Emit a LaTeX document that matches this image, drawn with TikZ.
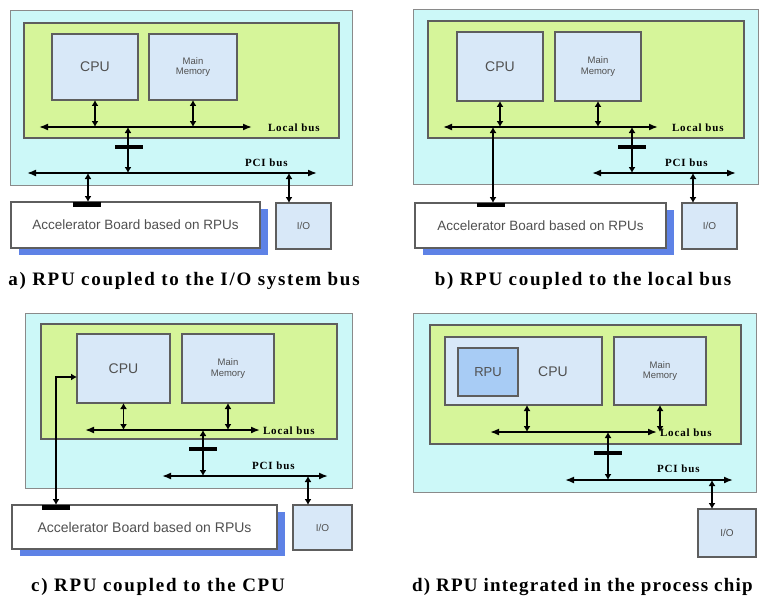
\documentclass[tikz,border=0pt]{standalone}
\usepackage{fontspec}
\setmainfont{Liberation Serif}
\newfontfamily\boxfont{Liberation Sans}
\newfontfamily\capfont[LetterSpace=9]{Liberation Serif}
\newfontfamily\capfontd[LetterSpace=6.5]{Liberation Serif}
\newfontfamily\busfont[LetterSpace=8]{Liberation Serif}
\usetikzlibrary{arrows.meta,shadows}
\definecolor{cyanbg}{HTML}{CCF8F8}
\definecolor{greenbg}{HTML}{D6F59A}
\definecolor{boxbg}{HTML}{D8E8F8}
\definecolor{rpubg}{HTML}{A8CCF5}
\definecolor{edgedark}{HTML}{5E5E5E}
\definecolor{edgelight}{HTML}{8A8A8A}
\definecolor{shadowblue}{HTML}{5E82E6}
\definecolor{txtgray}{HTML}{505050}
\newcommand\rbox[7]{\node[#1, anchor=north west, minimum width={(#4)-(#2)}, minimum height={(#5)-(#3)}] (#6) at (#2,#3) {#7};}
\begin{document}
\begin{tikzpicture}[x=1pt,y=-1pt,
 every node/.style={inner sep=0pt, outer sep=0pt},
 sysbox/.style={draw=edgelight, line width=1pt, fill=cyanbg},
 chipbox/.style={draw=edgedark, line width=1.4pt, fill=greenbg},
 unitbox/.style={draw=edgedark, line width=1.3pt, fill=boxbg, font=\boxfont\fontsize{14}{16}\selectfont, text=txtgray, align=center},
 memtext/.style={font=\boxfont\fontsize{9.5}{10.5}\selectfont},
 iobox/.style={unitbox, font=\boxfont\fontsize{10}{12}\selectfont},
 rpubox/.style={draw=edgedark, line width=1.2pt, fill=rpubg, font=\boxfont\fontsize{13}{15}\selectfont, text=txtgray},
 boardbox/.style={draw=edgedark, line width=1.2pt, fill=white, font=\boxfont\fontsize{13.5}{15}\selectfont, text=txtgray,
   drop shadow={shadow xshift=8pt, shadow yshift=-7pt, fill=shadowblue, opacity=1}},
 bus/.style={line width=1.7pt, {Latex[length=9pt,width=7pt]}-{Latex[length=9pt,width=7pt]}},
 link/.style={line width=1.8pt, {Latex[length=6pt,width=7pt]}-{Latex[length=6pt,width=7pt]}},
 bridge/.style={line width=1.3pt, {Latex[length=6pt,width=7pt]}-{Latex[length=6pt,width=7pt]}},
 barnode/.style={fill=black, minimum width=28pt, minimum height=4.5pt},
 buslabel/.style={font=\busfont\bfseries\fontsize{11}{12}\selectfont, anchor=west},
 captext/.style={font=\capfont\bfseries\fontsize{19}{22}\selectfont},
]
\useasboundingbox[fill=white] (0,0) rectangle (759,599);

% ---------------- panel a ----------------
\rbox{sysbox}{10}{11}{352}{185}{sysA}{}
\rbox{chipbox}{24}{23}{339}{138}{chipA}{}
\rbox{unitbox}{52}{34}{138}{100}{cpuA}{CPU}
\rbox{unitbox,memtext}{149}{34}{237}{100}{memA}{Main\\Memory}
\rbox{boardbox}{11}{202}{260}{248}{accA}{Accelerator Board based on RPUs}
\rbox{iobox}{276}{203}{331}{249}{ioA}{I/O}
\coordinate (aL1) at (39,127); \coordinate (aL2) at (252,127);
\coordinate (aP1) at (27,173); \coordinate (aP2) at (317,173);
\draw[bus] (aL1) -- (aL2);
\draw[bus] (aP1) -- (aP2);
\node[buslabel] (aLlab) at (268,128) {Local bus};
\node[buslabel] (aPlab) at (245,163) {PCI bus};
\draw[link] (cpuA.south) -- (cpuA.south |- aL1);
\draw[link] (memA.south) -- (memA.south |- aL1);
\coordinate (aBr) at (128,127);
\draw[bridge] (aBr) -- (aBr |- aP1);
\node[barnode] (aBar) at (129,147) {};
\coordinate (aAx) at (88,173);
\draw[link] (aAx) -- (aAx |- accA.north);
\node[barnode] (aAbar) at (87,204.5) {};
\coordinate (aIx) at (289,173);
\draw[link] (aIx) -- (aIx |- ioA.north);
\node[captext] (capA) at (184,281) {a) RPU coupled to the I/O system bus};

% ---------------- panel b ----------------
\rbox{sysbox}{413}{10}{758}{184}{sysB}{}
\rbox{chipbox}{428}{21}{744}{138}{chipB}{}
\rbox{unitbox}{457}{32}{543}{101}{cpuB}{CPU}
\rbox{unitbox,memtext}{555}{32}{641}{101}{memB}{Main\\Memory}
\rbox{boardbox}{415}{203}{666}{248}{accB}{Accelerator Board based on RPUs}
\rbox{iobox}{682}{203}{737}{249}{ioB}{I/O}
\coordinate (bL1) at (443,127); \coordinate (bL2) at (658,127);
\coordinate (bP1) at (592,173); \coordinate (bP2) at (736,173);
\draw[bus] (bL1) -- (bL2);
\draw[bus] (bP1) -- (bP2);
\node[buslabel] (bLlab) at (672,128) {Local bus};
\node[buslabel] (bPlab) at (665,163) {PCI bus};
\draw[link] (cpuB.south) -- (cpuB.south |- bL1);
\draw[link] (memB.south) -- (memB.south |- bL1);
\coordinate (bAx) at (493,127);
\draw[link] (bAx) -- (bAx |- accB.north);
\node[barnode] (bAbar) at (491,205) {};
\coordinate (bBr) at (632,127);
\draw[link] (bBr) -- (bBr |- bP1);
\node[barnode] (bBar) at (632,147) {};
\coordinate (bIx) at (693,173);
\draw[link] (bIx) -- (bIx |- ioB.north);
\node[captext] (capB) at (583,281) {b) RPU coupled to the local bus};

% ---------------- panel c ----------------
\rbox{sysbox}{25}{313}{352}{488}{sysC}{}
\rbox{chipbox}{41}{324}{337}{439}{chipC}{}
\rbox{unitbox}{77}{334}{170}{403}{cpuC}{CPU}
\rbox{unitbox,memtext}{182}{334}{274}{403}{memC}{Main\\Memory}
\rbox{boardbox,font=\boxfont\fontsize{14}{16}\selectfont}{12}{505}{277}{549}{accC}{Accelerator Board based on RPUs}
\rbox{iobox}{293}{505}{352}{550}{ioC}{I/O}
\coordinate (cL1) at (85,430); \coordinate (cL2) at (260,430);
\coordinate (cP1) at (162,476); \coordinate (cP2) at (328,476);
\draw[bus] (cL1) -- (cL2);
\draw[bus] (cP1) -- (cP2);
\node[buslabel] (cLlab) at (263,431) {Local bus};
\node[buslabel] (cPlab) at (252,466) {PCI bus};
\draw[link] (cpuC.south) -- (cpuC.south |- cL1);
\draw[link] (memC.south) -- (memC.south |- cL1);
\coordinate (cBr) at (203,430);
\draw[link] (cBr) -- (cBr |- cP1);
\node[barnode] (cBar) at (203,449) {};
\coordinate (cIx) at (308,476);
\draw[link] (cIx) -- (cIx |- ioC.north);
\coordinate (cK) at (56,505);
\coordinate (cKc) at (77,377);
\draw[bridge] (cK) |- (cKc);
\node[barnode] (cAbar) at (56,507.5) {};
\node[captext] (capC) at (158,587) {c) RPU coupled to the CPU};

% ---------------- panel d ----------------
\rbox{sysbox}{413}{313}{756}{492}{sysD}{}
\rbox{chipbox}{430}{325}{741}{444}{chipD}{}
\rbox{unitbox}{445}{337}{602}{405}{cpuD}{}
\rbox{rpubox}{458}{348}{518}{396}{rpuD}{RPU}
\node[font=\boxfont\fontsize{14}{16}\selectfont, text=txtgray] (cpuDlab) at (553,372) {CPU};
\rbox{unitbox,memtext}{614}{337}{706}{405}{memD}{Main\\Memory}
\rbox{iobox}{698}{509}{756}{557}{ioD}{I/O}
\coordinate (dL1) at (490,432); \coordinate (dL2) at (657,432);
\coordinate (dP1) at (565,480); \coordinate (dP2) at (733,480);
\draw[bus] (dL1) -- (dL2);
\draw[bus] (dP1) -- (dP2);
\node[buslabel] (dLlab) at (660,433) {Local bus};
\node[buslabel] (dPlab) at (657,469) {PCI bus};
\coordinate (dCx) at (527,405);
\draw[link] (dCx) -- (dCx |- dL1);
\draw[link] (memD.south) -- (memD.south |- dL1);
\coordinate (dBr) at (608,432);
\draw[link] (dBr) -- (dBr |- dP1);
\node[barnode] (dBar) at (608,453) {};
\coordinate (dIx) at (712,480);
\draw[link] (dIx) -- (dIx |- ioD.north);
\node[font=\capfontd\bfseries\fontsize{19}{22}\selectfont, anchor=west] (capD) at (412,587) {d) RPU integrated in the process chip};
\end{tikzpicture}
\end{document}
